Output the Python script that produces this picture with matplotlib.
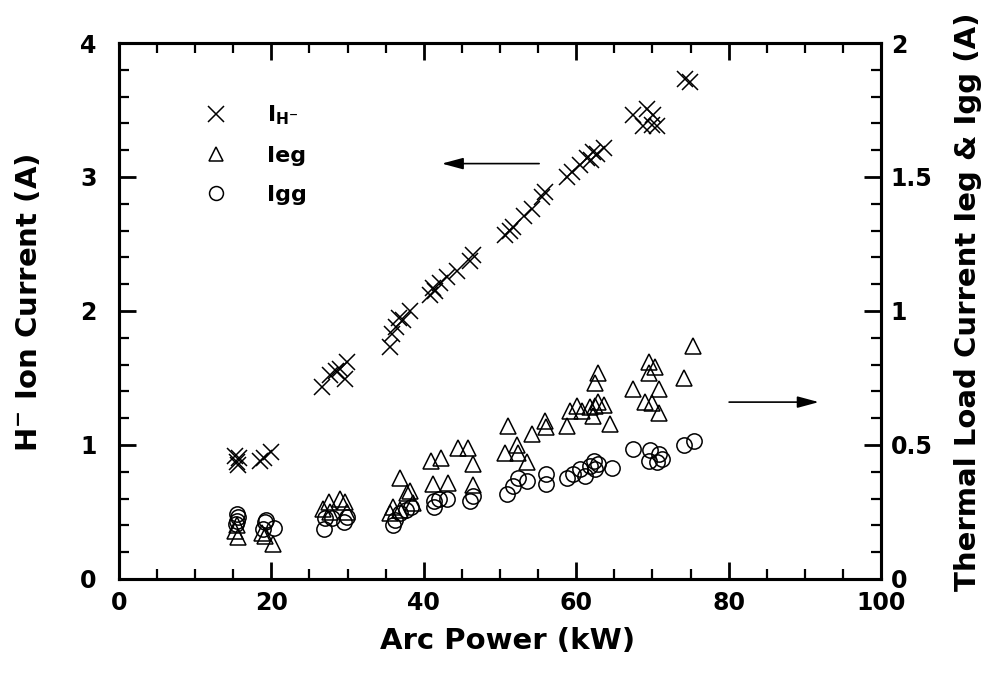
import matplotlib
matplotlib.use("Agg")
import matplotlib.pyplot as plt
from matplotlib.ticker import MultipleLocator
from matplotlib.lines import Line2D

# ---- data ----
# H- ion current (left axis, A) vs arc power (kW)
ih_power = [15.2, 15.5, 15.8, 15.6, 18.5, 19.0, 20.0,
            26.6, 27.7, 29.0, 29.9, 29.6, 28.5,
            35.6, 35.8, 36.4, 37.3, 38.2, 36.8,
            40.8, 41.2, 42.1, 43.0, 44.3, 46.1, 46.5, 41.5,
            50.7, 51.3, 51.7, 53.1, 54.2, 55.5, 55.9,
            58.8, 59.4, 60.5, 61.4, 62.2, 62.7, 63.6, 62.0,
            67.5, 69.3, 70.1, 69.9, 70.6, 68.8,
            74.3, 74.9]
ih_current = [0.92, 0.87, 0.90, 0.85, 0.88, 0.90, 0.95,
              1.43, 1.52, 1.57, 1.62, 1.49, 1.55,
              1.73, 1.83, 1.88, 1.93, 2.00, 1.95,
              2.12, 2.17, 2.21, 2.25, 2.30, 2.37, 2.42, 2.15,
              2.57, 2.60, 2.63, 2.71, 2.76, 2.85, 2.89,
              3.00, 3.04, 3.09, 3.14, 3.19, 3.17, 3.22, 3.13,
              3.46, 3.51, 3.46, 3.39, 3.38, 3.38,
              3.73, 3.71]

# thermal load current Ieg (right axis, A)
ieg_power = [15.2, 15.6, 15.5, 19.2, 20.2, 18.8,
             27.5, 29.0, 29.7, 26.8, 27.7, 29.9,
             36.9, 37.8, 38.6, 36.0, 36.9, 35.6, 38.2,
             41.0, 42.3, 44.5, 45.8, 46.5, 41.2, 43.2, 46.5,
             51.1, 50.7, 52.2, 52.4, 53.5, 54.2, 55.9, 56.1,
             58.8, 59.2, 60.1, 60.7, 61.8, 62.5, 62.9, 63.6, 62.2, 64.4, 62.9, 62.5,
             69.5, 70.3, 69.5, 67.5, 70.8, 69.0, 69.9, 70.8, 74.1, 75.3]
ieg_current = [0.18, 0.155, 0.20, 0.16, 0.13, 0.17,
               0.288, 0.300, 0.288, 0.263, 0.251, 0.251,
               0.376, 0.32, 0.283, 0.27, 0.257, 0.245, 0.33,
               0.44, 0.45, 0.49, 0.49, 0.43, 0.354, 0.36, 0.35,
               0.572, 0.47, 0.50, 0.47, 0.435, 0.54, 0.59, 0.566,
               0.57, 0.626, 0.645, 0.626, 0.64, 0.645, 0.66, 0.65, 0.607, 0.58, 0.77, 0.73,
               0.81, 0.79, 0.77, 0.71, 0.71, 0.66, 0.655, 0.62, 0.75, 0.87]

# thermal load current Igg (right axis, A)
igg_power = [15.5, 15.5, 15.3, 15.6, 19.1, 20.3, 18.9, 19.3,
             26.9, 28.0, 29.5, 29.9, 27.0,
             35.9, 36.2, 36.9, 37.7, 38.3,
             41.3, 41.3, 43.0, 46.1, 46.5, 42.0,
             50.9, 51.7, 53.5, 56.1, 56.1, 52.3,
             58.8, 59.6, 60.5, 61.8, 62.5, 62.9, 64.7, 61.2, 62.3,
             67.5, 69.7, 70.8, 69.5, 70.6, 71.2,
             74.1, 75.4]
igg_current = [0.242, 0.218, 0.205, 0.23, 0.211, 0.192, 0.186, 0.22,
               0.188, 0.226, 0.213, 0.233, 0.226,
               0.20, 0.22, 0.245, 0.257, 0.27,
               0.267, 0.29, 0.30, 0.29, 0.31, 0.30,
               0.317, 0.348, 0.366, 0.39, 0.355, 0.375,
               0.377, 0.39, 0.41, 0.42, 0.41, 0.43, 0.415, 0.385, 0.44,
               0.485, 0.48, 0.465, 0.44, 0.435, 0.447,
               0.50, 0.515]

plt.rcParams['font.family'] = ['DejaVu Sans']
plt.rcParams['font.weight'] = 'bold'
plt.rcParams['mathtext.fontset'] = 'custom'
plt.rcParams['mathtext.rm'] = 'DejaVu Sans:bold'
plt.rcParams['mathtext.bf'] = 'DejaVu Sans:bold'
plt.rcParams['mathtext.it'] = 'DejaVu Sans:bold'

fig = plt.figure(figsize=(9.98, 6.73), dpi=100)
ax = fig.add_axes([0.1192, 0.1397, 0.7636, 0.7964])
ax2 = ax.twinx()

mk = dict(linestyle='none', color='black', markerfacecolor='none', markeredgewidth=1.1)
ax.plot(ih_power, ih_current, marker='x', markersize=12, **mk)
ax2.plot(ieg_power, ieg_current, marker='^', markersize=12, **mk)
ax2.plot(igg_power, igg_current, marker='o', markersize=11, **mk)

ax.set_xlim(0, 100)
ax.set_ylim(0, 4)
ax2.set_ylim(0, 2)

ax.xaxis.set_major_locator(MultipleLocator(20))
ax.xaxis.set_minor_locator(MultipleLocator(5))
ax.yaxis.set_major_locator(MultipleLocator(1))
ax.yaxis.set_minor_locator(MultipleLocator(0.2))
ax2.yaxis.set_major_locator(MultipleLocator(0.5))
ax2.yaxis.set_minor_locator(MultipleLocator(0.1))
ax2.set_yticks([0, 0.5, 1, 1.5, 2])
ax2.set_yticklabels(['0', '0.5', '1', '1.5', '2'])

for a in (ax, ax2):
    for s in a.spines.values():
        s.set_linewidth(2.2)
ax.tick_params(axis='x', which='both', direction='in', top=True, width=2, pad=9, labelsize=17)
ax.tick_params(axis='y', which='both', direction='in', left=True, right=False, width=2, pad=16, labelsize=17)
ax.tick_params(which='major', length=12)
ax.tick_params(which='minor', length=7, width=1.6)
ax2.tick_params(axis='y', which='both', direction='in', width=2, pad=7, labelsize=17)
ax2.tick_params(which='major', length=12)
ax2.tick_params(which='minor', length=7, width=1.6)

ax.set_xlabel('Arc Power (kW)', fontsize=21, fontweight='bold', va='center')
ax.xaxis.set_label_coords(0.51, -0.115)
ax.set_ylabel(r'H$^{-}$ Ion Current (A)', fontsize=21, fontweight='bold', va='center', ha='center')
ax.yaxis.set_label_coords(-0.119, 0.515)
ax2.set_ylabel('Thermal Load Current Ieg & Igg (A)', fontsize=21, fontweight='bold',
               va='center', ha='center', rotation=90)
ax2.yaxis.set_label_coords(1.114, 0.517)

# legend
handles = [Line2D([], [], marker='x', markersize=11, **mk),
           Line2D([], [], marker='^', markersize=10, **mk),
           Line2D([], [], marker='o', markersize=10, **mk)]
labels = [r'I$_{\mathrm{H}^{-}}$', 'Ieg', 'Igg']
ax.legend(handles, labels, loc='upper left', bbox_to_anchor=(0.087, 0.924), frameon=False,
          fontsize=16, handletextpad=1.8, labelspacing=0.85, handlelength=1.0)

# arrows pointing to the relevant axis
ax.annotate('', xy=(42.0, 3.1), xytext=(55.5, 3.1),
            arrowprops=dict(arrowstyle='-|>,head_length=1.3,head_width=0.35', lw=1.2, color='black'))
ax2.annotate('', xy=(92.2, 0.66), xytext=(79.7, 0.66),
             arrowprops=dict(arrowstyle='-|>,head_length=1.3,head_width=0.35', lw=1.2, color='black'))

fig.savefig('out.png', dpi=100)
